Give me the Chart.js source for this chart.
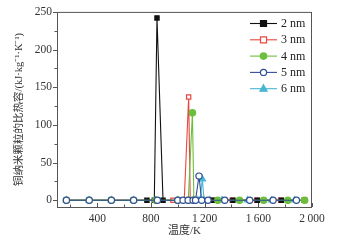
<!DOCTYPE html>
<html><head><meta charset="utf-8">
<script src="https://cdn.jsdelivr.net/npm/chart.js@4/dist/chart.umd.min.js"></script>
<style>html,body{margin:0;padding:0;background:#fff}#w{width:343px;height:243px}</style>
</head><body><div id="w"><canvas id="c" width="343" height="243"></canvas></div>
<script>
const seriesNames = ['2 nm', '3 nm', '4 nm', '5 nm', '6 nm'];
const t2 = [170, 340, 505, 670, 770, 825, 845, 890, 1262, 1411, 1593, 1772, 1945];
const v2 = [0, 0, 0, 0, 0, 0, 242, 0, 0, 0, 0, 0, 0];
const t3 = [170, 340, 505, 670, 836, 964, 1048, 1081, 1093, 1255, 1405, 1588, 1766, 1940];
const v3 = [0, 0, 0, 0, 0, 0, 0, 137, 0, 0, 0, 0, 0, 0];
const t4 = [170, 340, 505, 670, 836, 1000, 1078, 1109, 1120, 1298, 1460, 1640, 1820, 1945];
const v4 = [0, 0, 0, 0, 0, 0, 0, 116, 0, 0, 0, 0, 0, 0];
const t5 = [170, 340, 505, 671, 848, 1000, 1039, 1077, 1114, 1132, 1158, 1178, 1225, 1350, 1536, 1710, 1884];
const v5 = [0, 0, 0, 0, 0, 0, 0, 0, 0, 0, 32, 0, 0, 0, 0, 0, 0];
const t6 = [170, 340, 505, 670, 836, 1000, 1080, 1150, 1166, 1183, 1196, 1240, 1330, 1520, 1700, 1870];
const v6 = [0, 0, 0, 0, 0, 0, 0, 0, 0, 28, 0, 0, 0, 0, 0, 0];
const xTicks = [400, 800, 1200, 1600, 2000];
const yTicks = [0, 50, 100, 150, 200, 250];

const pts = (t, v) => t.map((x, i) => ({x, y: v[i]}));
const styles = [
  {c: '#111111', bg: '#111111', ps: 'rect', r: 3, order: 2},
  {c: '#e8473f', bg: '#ffffff', ps: 'rect', r: 3, order: 3},
  {c: '#6cbf3c', bg: '#6cbf3c', ps: 'circle', r: 3.2, order: 1},
  {c: '#2f4f95', bg: '#ffffff', ps: 'circle', r: 3.1, order: 0},
  {c: '#48b6d2', bg: '#48b6d2', ps: 'triangle', r: 3.6, order: 4}
];
const allT = [t2, t3, t4, t5, t6], allV = [v2, v3, v4, v5, v6];
const datasets = seriesNames.map((n, i) => ({
  label: n, data: pts(allT[i], allV[i]),
  borderColor: styles[i].c, backgroundColor: styles[i].bg,
  pointBackgroundColor: styles[i].bg, pointBorderColor: styles[i].c,
  pointStyle: styles[i].ps, pointRadius: styles[i].r, pointBorderWidth: 1.2,
  borderWidth: 1.1, tension: 0, order: styles[i].order
}));

const serif = "'Liberation Serif', 'DejaVu Serif', serif";
const cjk = "'Liberation Serif', 'Noto Sans CJK SC', serif";

const ticksPlugin = {
  id: 'ticksPlugin',
  afterDraw(chart) {
    const ctx = chart.ctx, xs = chart.scales.x, ys = chart.scales.y, a = chart.chartArea;
    ctx.save();
    ctx.strokeStyle = '#555'; ctx.lineWidth = 1;
    ctx.strokeRect(a.left + 0.5, a.top + 0.5, a.right - a.left - 1, a.bottom - a.top);
    ctx.beginPath();
    for (let v = 200; v <= 2000; v += 200) {
      const p = Math.round(xs.getPixelForValue(v)) + 0.5;
      const len = (v % 400 === 0) ? 4 : 2.5;
      ctx.moveTo(p, a.bottom); ctx.lineTo(p, a.bottom - len);
    }
    for (let v = 0; v <= 250; v += 25) {
      const p = Math.round(ys.getPixelForValue(v)) + 0.5;
      const len = (v % 50 === 0) ? 4 : 2.5;
      ctx.moveTo(a.left, p); ctx.lineTo(a.left - len, p);
    }
    ctx.stroke();
    // legend
    const x0 = 250, x1 = 277, y0 = 23.5, dy = 16.3;
    chart.data.datasets.forEach((d, i) => {
      const y = y0 + i * dy, mx = (x0 + x1) / 2;
      ctx.strokeStyle = d.borderColor; ctx.lineWidth = 1.1;
      ctx.beginPath(); ctx.moveTo(x0, y); ctx.lineTo(x1, y); ctx.stroke();
      ctx.fillStyle = d.pointBackgroundColor; ctx.strokeStyle = d.pointBorderColor; ctx.lineWidth = 1.2;
      const r = d.pointRadius;
      ctx.beginPath();
      if (d.pointStyle === 'rect') ctx.rect(mx - r, y - r, 2 * r, 2 * r);
      else if (d.pointStyle === 'circle') ctx.arc(mx, y, r, 0, Math.PI * 2);
      else { ctx.moveTo(mx, y - r * 1.1); ctx.lineTo(mx + r, y + r * 0.7); ctx.lineTo(mx - r, y + r * 0.7); ctx.closePath(); }
      ctx.fill(); ctx.stroke();
      ctx.fillStyle = '#222'; ctx.font = '12px ' + serif; ctx.textBaseline = 'middle';
      ctx.fillText(d.label, 281, y + 0.5);
    });
    ctx.restore();
  }
};

new Chart(document.getElementById('c'), {
  type: 'line',
  data: {datasets},
  options: {
    responsive: false, animation: false, devicePixelRatio: 1,
    layout: {padding: {top: 10, right: 31, left: 0, bottom: 5}},
    plugins: {legend: {display: false}, tooltip: {enabled: false}},
    scales: {
      x: {
        type: 'linear', min: 100, max: 2000,
        afterBuildTicks: s => { s.ticks = xTicks.map(v => ({value: v})); },
        afterFit: s => { s.height = 31; },
        grid: {display: false, drawTicks: false},
        border: {display: false},
        ticks: {color: '#333', font: {family: serif, size: 11.5}, padding: 5, maxRotation: 0,
          callback: v => v >= 1000 ? String(v).replace(/(\d)(\d{3})$/, '$1\u2009$2') : String(v)},
        title: {display: true, text: '温度/K', color: '#333', font: {family: cjk, size: 11}, padding: {top: 0, bottom: 0}}
      },
      y: {
        min: -9, max: 250,
        afterBuildTicks: s => { s.ticks = yTicks.map(v => ({value: v})); },
        afterFit: s => { s.width = 57; },
        grid: {display: false, drawTicks: false},
        border: {display: false},
        ticks: {color: '#333', font: {family: serif, size: 11.5}, padding: 5},
        title: {display: true, text: '铜纳米颗粒的比热容/(kJ·kg⁻¹·K⁻¹)', color: '#333', font: {family: cjk, size: 10.5}, padding: {top: 13, bottom: 0}}
      }
    }
  },
  plugins: [ticksPlugin]
});
</script></body></html>
